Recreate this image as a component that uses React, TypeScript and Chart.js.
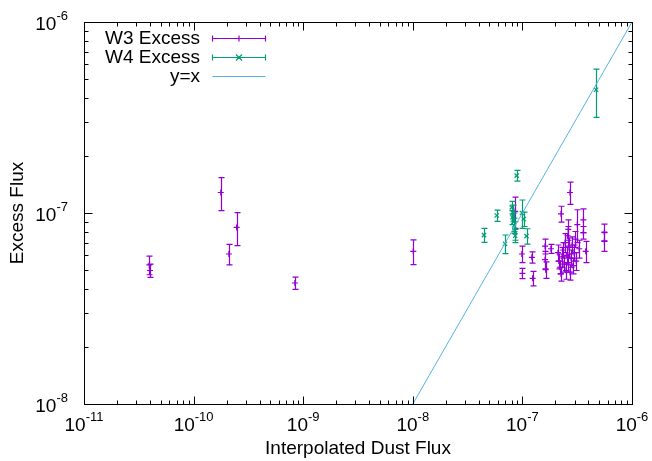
import React, { useEffect, useRef } from "react";
import { Chart, registerables } from "chart.js";
Chart.register(...registerables);

// ---- data ----
const w3X = [
  3.95e-11, 4.0e-11, 1.77e-10, 2.1e-10, 2.47e-10, 8.4e-10, 1.01e-8,
  8.6e-8, 9.9e-8, 1.0e-7, 1.22e-7, 1.24e-7, 1.61e-7, 1.61e-7, 1.63e-7, 1.82e-7,
  2.25e-7, 2.72e-7, 5.6e-7, 5.6e-7, 3.6e-7, 3.6e-7, 3.17e-7, 3.78e-7,
  2.11e-7, 2.15e-7, 2.2e-7, 2.25e-7, 2.3e-7, 2.35e-7, 2.4e-7, 2.45e-7, 2.5e-7,
  2.54e-7, 2.58e-7, 2.61e-7, 2.66e-7, 2.72e-7, 2.78e-7, 2.84e-7, 2.9e-7, 2.96e-7,
  3.05e-7, 3.1e-7, 3.3e-7, 2.62e-7,
];
const w3Y = [
  5.35e-8, 5.0e-8, 1.28e-7, 6.1e-8, 8.4e-8, 4.3e-8, 6.3e-8,
  1.02e-7, 6.1e-8, 4.83e-8, 5.86e-8, 4.55e-8, 6.7e-8, 5.7e-8, 5.05e-8, 6.5e-8,
  9.9e-8, 1.28e-7, 7.95e-8, 7.1e-8, 9.2e-8, 7.9e-8, 8.7e-8, 6.3e-8,
  6.2e-8, 5.6e-8, 5.2e-8, 4.8e-8, 5.9e-8, 6.4e-8, 5.4e-8, 7.0e-8, 5.0e-8,
  6.0e-8, 7.6e-8, 5.5e-8, 6.6e-8, 4.9e-8, 5.8e-8, 6.8e-8, 5.3e-8, 6.2e-8,
  7.3e-8, 5.6e-8, 6.5e-8, 8.2e-8,
];
const w3Err = [
  0.6e-8, 0.4e-8, 0.25e-7, 0.75e-8, 1.65e-8, 0.32e-8, 0.93e-8,
  1.9e-8, 0.6e-8, 0.3e-8, 0.4e-8, 0.4e-8, 0.6e-8, 0.6e-8, 0.5e-8, 0.35e-8,
  0.95e-8, 1.7e-8, 0.8e-8, 0.8e-8, 1.3e-8, 0.6e-8, 1.7e-8, 0.8e-8,
  0.6e-8, 0.5e-8, 0.4e-8, 0.4e-8, 0.7e-8, 0.6e-8, 0.5e-8, 0.8e-8, 0.5e-8,
  0.6e-8, 0.9e-8, 0.6e-8, 0.8e-8, 0.45e-8, 0.6e-8, 0.7e-8, 0.5e-8, 0.6e-8,
  0.7e-8, 0.6e-8, 0.7e-8, 1.0e-8,
];

const w4X = [
  4.46e-8, 5.83e-8, 6.94e-8, 8.87e-8, 8.0e-8, 8.2e-8, 8.1e-8, 8.3e-8,
  8.4e-8, 8.5e-8, 8.6e-8, 9.9e-8, 1.09e-7, 1.03e-7, 4.7e-7,
];
const w4Y = [
  7.66e-8, 9.7e-8, 6.9e-8, 1.57e-7, 1.07e-7, 1.0e-7, 9.5e-8, 9.0e-8,
  8.6e-8, 8.1e-8, 7.6e-8, 1.0e-7, 7.57e-8, 9.3e-8, 4.42e-7,
];
const w4Err = [
  0.65e-8, 0.65e-8, 0.77e-8, 0.1e-7, 0.08e-7, 0.1e-7, 0.08e-7, 0.1e-7,
  0.08e-7, 0.09e-7, 0.6e-8, 1.7e-8, 0.7e-8, 0.8e-8, 1.25e-7,
];

const lineX = [1e-8, 1e-6];
const lineY = [1e-8, 1e-6];

const xTickExps = [-11, -10, -9, -8, -7, -6];
const yTickExps = [-8, -7, -6];

const legendLabels = ["W3 Excess", "W4 Excess", "y=x"];
const xTitle = "Interpolated Dust Flux";
const yTitle = "Excess Flux";

const C_W3 = "#9400D3";
const C_W4 = "#009E73";
const C_LINE = "#56B4E9";
const FONT = "'Liberation Sans', Arial, sans-serif";

const errorBarPlugin = {
  id: "errbars",
  beforeDatasetDraw(chart: any, args: any) {
    const ds = chart.data.datasets[args.index];
    if (!ds.errors) return;
    const { ctx, chartArea, scales } = chart;
    ctx.save();
    ctx.beginPath();
    ctx.rect(chartArea.left, chartArea.top, chartArea.right - chartArea.left, chartArea.bottom - chartArea.top);
    ctx.clip();
    ctx.strokeStyle = ds.borderColor;
    ctx.lineWidth = 1.2;
    const cap = 3;
    ds.data.forEach((p: any, i: number) => {
      const e = ds.errors[i];
      const px = Math.round(scales.x.getPixelForValue(p.x)) + 0.5;
      const y1 = scales.y.getPixelForValue(p.y + e);
      const y2 = scales.y.getPixelForValue(p.y - e);
      ctx.beginPath();
      ctx.moveTo(px, y1);
      ctx.lineTo(px, y2);
      ctx.moveTo(px - cap, y1);
      ctx.lineTo(px + cap, y1);
      ctx.moveTo(px - cap, y2);
      ctx.lineTo(px + cap, y2);
      ctx.stroke();
    });
    ctx.restore();
  },
};

const frameAndLabelsPlugin = {
  id: "frameLabels",
  afterDraw(chart: any) {
    const { ctx, chartArea, scales } = chart;
    const { left, right, top, bottom } = chartArea;
    ctx.save();
    ctx.strokeStyle = "#000";
    ctx.lineWidth = 1;
    const L = Math.round(left) + 0.5, R = Math.round(right) + 0.5;
    const T = Math.round(top) + 0.5, B = Math.round(bottom) + 0.5;
    ctx.strokeRect(L, T, R - L, B - T);
    const major = 8, minor = 4;
    ctx.beginPath();
    for (let e = -11; e <= -6; e++) {
      for (let m = 1; m <= 9; m++) {
        if (e === -6 && m > 1) break;
        const v = m * Math.pow(10, e);
        const x = Math.round(scales.x.getPixelForValue(v)) + 0.5;
        const len = m === 1 ? major : minor;
        ctx.moveTo(x, B); ctx.lineTo(x, B - len);
        ctx.moveTo(x, T); ctx.lineTo(x, T + len);
      }
    }
    for (let e = -8; e <= -6; e++) {
      for (let m = 1; m <= 9; m++) {
        if (e === -6 && m > 1) break;
        const v = m * Math.pow(10, e);
        const y = Math.round(scales.y.getPixelForValue(v)) + 0.5;
        const len = m === 1 ? major : minor;
        ctx.moveTo(L, y); ctx.lineTo(L + len, y);
        ctx.moveTo(R, y); ctx.lineTo(R - len, y);
      }
    }
    ctx.stroke();

    ctx.fillStyle = "#000";
    ctx.textBaseline = "alphabetic";
    const big = "19px " + FONT, small = "13px " + FONT;
    xTickExps.forEach((e) => {
      const x = scales.x.getPixelForValue(Math.pow(10, e));
      ctx.font = big; const w1 = ctx.measureText("10").width;
      ctx.font = small; const w2 = ctx.measureText(String(e)).width;
      const x0 = x - (w1 + w2) / 2;
      ctx.font = big; ctx.textAlign = "left";
      ctx.fillText("10", x0, 431);
      ctx.font = small;
      ctx.fillText(String(e), x0 + w1, 421);
    });
    yTickExps.forEach((e) => {
      const y = scales.y.getPixelForValue(Math.pow(10, e));
      ctx.font = small; const w2 = ctx.measureText(String(e)).width;
      ctx.textAlign = "left";
      const xr = 68;
      ctx.font = big; const w1 = ctx.measureText("10").width;
      ctx.fillText("10", xr - w2 - w1, y + 8);
      ctx.font = small;
      ctx.fillText(String(e), xr - w2, y - 2);
    });

    const colors = [C_W3, C_W4, C_LINE];
    const ly = [38, 57, 76];
    ctx.font = big;
    ctx.textAlign = "right";
    ctx.textBaseline = "middle";
    legendLabels.forEach((t, i) => {
      ctx.fillStyle = "#000";
      ctx.fillText(t, 200, ly[i] + 1);
      ctx.strokeStyle = colors[i];
      ctx.lineWidth = 1.2;
      const x1 = 212.5, x2 = 265.5, y = ly[i] + 0.5;
      ctx.beginPath();
      ctx.moveTo(x1, y); ctx.lineTo(x2, y);
      if (i < 2) {
        ctx.moveTo(x1, y - 3); ctx.lineTo(x1, y + 3);
        ctx.moveTo(x2, y - 3); ctx.lineTo(x2, y + 3);
        const cx = 239;
        if (i === 0) {
          ctx.moveTo(cx - 3, y); ctx.lineTo(cx + 3, y);
          ctx.moveTo(cx, y - 3); ctx.lineTo(cx, y + 3);
        } else {
          ctx.moveTo(cx - 3, y - 3); ctx.lineTo(cx + 3, y + 3);
          ctx.moveTo(cx - 3, y + 3); ctx.lineTo(cx + 3, y - 3);
        }
      }
      ctx.stroke();
    });
    ctx.restore();
  },
};

export default function App() {
  const ref = useRef<HTMLCanvasElement | null>(null);
  useEffect(() => {
    if (!ref.current) return;
    const toPts = (xs: number[], ys: number[]) => xs.map((x, i) => ({ x, y: ys[i] }));
    const chart = new Chart(ref.current, {
      type: "scatter",
      data: {
        datasets: [
          {
            label: legendLabels[2],
            type: "line",
            data: toPts(lineX, lineY),
            borderColor: C_LINE,
            borderWidth: 1,
            pointRadius: 0,
            fill: false,
            order: 0,
          } as any,
          {
            label: legendLabels[1],
            data: toPts(w4X, w4Y),
            errors: w4Err,
            borderColor: C_W4,
            backgroundColor: C_W4,
            pointStyle: "crossRot",
            pointRadius: 3,
            pointBorderWidth: 1.2,
            order: 1,
          } as any,
          {
            label: legendLabels[0],
            data: toPts(w3X, w3Y),
            errors: w3Err,
            borderColor: C_W3,
            backgroundColor: C_W3,
            pointStyle: "cross",
            pointRadius: 3,
            pointBorderWidth: 1.2,
            order: 2,
          } as any,
        ],
      },
      options: {
        animation: false,
        responsive: false,
        devicePixelRatio: 1,
        layout: { padding: { top: 22, right: 20, left: 0, bottom: 0 } },
        plugins: { legend: { display: false }, tooltip: { enabled: false } },
        scales: {
          x: {
            type: "logarithmic",
            min: 1e-11,
            max: 1e-6,
            grid: { display: false },
            border: { display: false },
            ticks: { display: false },
            title: {
              display: true,
              text: xTitle,
              color: "#000",
              font: { family: FONT, size: 19 },
              padding: { top: 0, bottom: 1 },
            },
            afterFit: (s: any) => { s.height = 57; },
          },
          y: {
            type: "logarithmic",
            min: 1e-8,
            max: 1e-6,
            grid: { display: false },
            border: { display: false },
            ticks: { display: false },
            title: {
              display: true,
              text: yTitle,
              color: "#000",
              font: { family: FONT, size: 19 },
              padding: { top: 6, bottom: 0 },
            },
            afterFit: (s: any) => { s.width = 84; },
          },
        },
      } as any,
      plugins: [errorBarPlugin, frameAndLabelsPlugin],
    });
    return () => chart.destroy();
  }, []);
  return (
    <div style={{ position: "absolute", left: 0, top: 0, width: 652, height: 461, background: "#fff" }}>
      <canvas ref={ref} width={652} height={461} style={{ display: "block" }} />
    </div>
  );
}
